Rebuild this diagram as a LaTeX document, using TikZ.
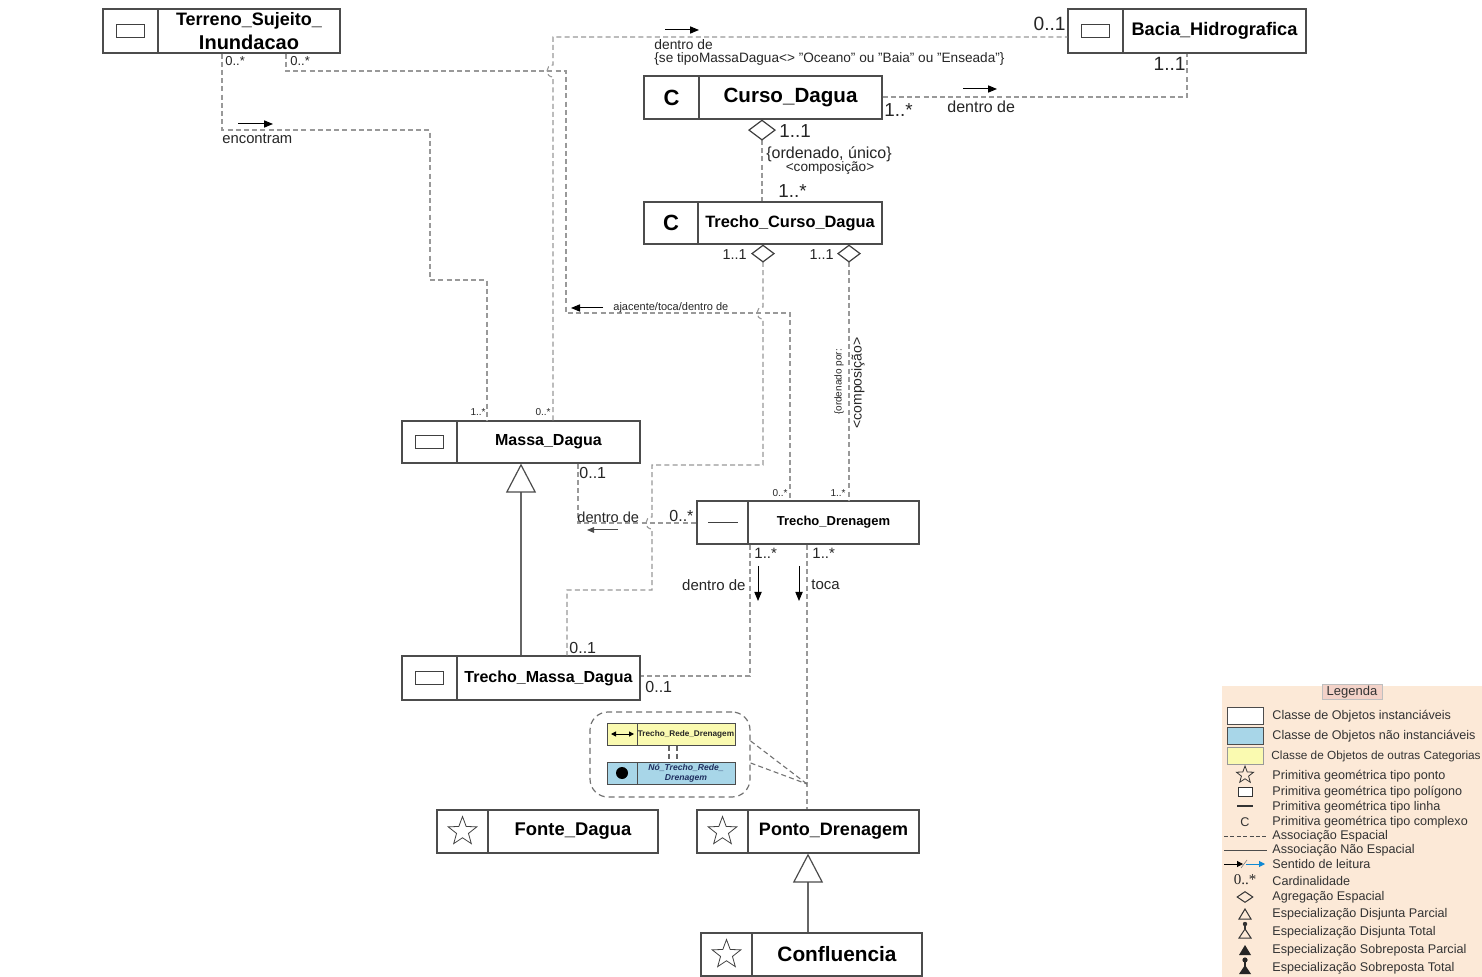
\documentclass[tikz,border=0pt]{standalone}
\usepackage{fontspec}
\setmainfont{Liberation Sans}
\newfontfamily\serifA{Liberation Serif}
\usetikzlibrary{arrows.meta,shapes.geometric,fit,calc}
\newcommand{\fs}[1]{\fontsize{#1}{#1}\selectfont}
\definecolor{legbg}{HTML}{FCE9D7}
\definecolor{legtab}{HTML}{F3D2C8}
\definecolor{clsblue}{HTML}{A8D6E8}
\definecolor{clsyel}{HTML}{FAFAB0}
\definecolor{navy}{HTML}{1F2F5F}
\newcommand{\clsbox}[8]{%
 \node[clsframe, fit={(#2,#3) (#4,#5)}] (#1) {};
 \draw[clsline] (#6,#3) -- (#6,#5);
 \pgfmathsetmacro{\ix}{(#2+#6)/2}%
 \pgfmathsetmacro{\iy}{(#3+#5)/2}%
 \pgfmathsetmacro{\tx}{(#6+#4)/2}%
 \path (\ix,\iy) node#7;
 \node[clstext] (#1-t) at (\tx,\iy) {#8};
}
\begin{document}
\begin{tikzpicture}[x=0.5pt,y=-0.5pt,
 clsframe/.style={draw=black!70, line width=0.6pt, inner sep=0pt, fill=white},
 clsline/.style={draw=black!70, line width=0.6pt},
 clstext/.style={inner sep=0pt, text=black, align=center},
 assoc/.style={draw=black!40, line width=0.55pt, dash pattern=on 2.5pt off 1.6pt},
 gen/.style={draw=black!60, line width=0.55pt},
 lbl/.style={inner sep=0pt, text=black!85},
 rdarrow/.style={draw=black, line width=0.5pt, -{Triangle[length=4.5pt,width=3.6pt]}},
 polyicon/.style={draw=black!75, line width=0.5pt, minimum width=14pt, minimum height=6.5pt, inner sep=0pt},
 staricon/.style={star, star points=5, star point ratio=2.4, draw=black!75, line width=0.4pt, minimum size=15pt, inner sep=0pt},
 lineicon/.style={fill=black!75, minimum width=15pt, minimum height=0.6pt, inner sep=0pt},
 cicon/.style={inner sep=0pt, font=\fs{11}\bfseries},
 legtext/.style={inner sep=0pt, anchor=west, text=black!80, font=\fs{6.3}},
]
\useasboundingbox (0,0) rectangle (1482,977);
\fill[white] (0,0) rectangle (1482,977);

% ---------- class boxes ----------
\clsbox{terreno}{103}{9}{340}{53}{158}{[polyicon] (terreno-i) {}}{\fontsize{9}{10.5}\selectfont\textbf{Terreno\_Sujeito\_}\\\textbf{Inundacao}}
\clsbox{bacia}{1068}{9}{1306}{53}{1123}{[polyicon] (bacia-i) {}}{\fs{9.1}\bfseries Bacia\_Hidrografica}
\clsbox{curso}{644}{76}{882}{119}{699}{[cicon] (curso-i) {C}}{\fs{10.3}\bfseries Curso\_Dagua}
\clsbox{trcurso}{644}{202}{882}{244}{698}{[cicon] (trcurso-i) {C}}{\fs{8.2}\bfseries Trecho\_Curso\_Dagua}
\clsbox{massa}{402}{421}{640}{463}{457}{[polyicon] (massa-i) {}}{\fs{8}\bfseries Massa\_Dagua}
\clsbox{trdren}{697}{501}{919}{544}{748}{[lineicon] (trdren-i) {}}{\fs{6.5}\bfseries Trecho\_Drenagem}
\clsbox{trmassa}{402}{656}{640}{700}{457}{[polyicon] (trmassa-i) {}}{\fs{8}\bfseries Trecho\_Massa\_Dagua}
\clsbox{fonte}{437}{810}{658}{853}{488}{[staricon] (fonte-i) {}}{\fs{9.2}\bfseries Fonte\_Dagua}
\clsbox{ponto}{697}{810}{919}{853}{748}{[staricon] (ponto-i) {}}{\fs{9}\bfseries Ponto\_Drenagem}
\clsbox{conf}{701}{933}{922}{976}{752}{[staricon] (conf-i) {}}{\fs{10.4}\bfseries Confluencia}

% ---------- connectors ----------
% Terreno -> Massa (encontram)
\draw[assoc] (terreno.south -| 222,0) -- (222,130) -- (430,130) -- (430,280) -- (487,280) -- (massa.north -| 487,0);
% Terreno -> Trecho_Drenagem (ajacente/toca/dentro de)
\draw[assoc] (terreno.south -| 286,0) -- (286,71) -- (566,71) -- (566,313) -- (790,313) -- (trdren.north -| 790,0);
% Massa -> Bacia (dentro de)
\draw[assoc] (massa.north -| 553,0) -- (553,77) .. controls (545,77) and (545,65) .. (553,65) -- (553,37) -- (bacia.west |- 0,37);
% Curso -> Bacia
\draw[assoc] (curso.east |- 0,97) -- (1187,97) -- (bacia.south -| 1187,0);
% Curso <> Trecho_Curso
\draw[assoc, {Diamond[open,length=10.5pt,width=14pt,color=black!75,line width=0.6pt]}-] (curso.south -| 762,0) -- (trcurso.north -| 762,0);
% Trecho_Curso <> Trecho_Massa
\draw[assoc, {Diamond[open,length=9pt,width=12pt,color=black!75,line width=0.6pt]}-] (trcurso.south -| 763,0) -- (763,307) .. controls (755,307) and (755,319) .. (763,319) -- (763,465) -- (652,465) -- (652,517) .. controls (644,517) and (644,529) .. (652,529) -- (652,590) -- (567,590) -- (trmassa.north -| 567,0);
% Trecho_Curso <> Trecho_Drenagem
\draw[assoc, {Diamond[open,length=9pt,width=12pt,color=black!75,line width=0.6pt]}-] (trcurso.south -| 849,0) -- (trdren.north -| 849,0);
% Massa -> Trecho_Drenagem (dentro de)
\draw[assoc] (massa.south -| 578,0) -- (578,523) -- (trdren.west |- 0,523);
% Trecho_Drenagem -> Trecho_Massa
\draw[assoc] (trdren.south -| 750,0) -- (750,676) -- (trmassa.east |- 0,676);
% Trecho_Drenagem -> Ponto
\draw[assoc] (trdren.south -| 807,0) -- (ponto.north -| 807,0);
\coordinate (pj) at (807,784);
% generalizations
\draw[gen, -{Triangle[open,length=14.5pt,width=15pt,color=black!70,line width=0.6pt]}] (trmassa.north -| 521,0) -- (massa.south -| 521,0);
\draw[gen, -{Triangle[open,length=14.5pt,width=15pt,color=black!70,line width=0.6pt]}] (conf.north -| 808,0) -- (ponto.south -| 808,0);

% ---------- labels ----------
\node[lbl, anchor=west, font=\fs{6.5}] (m1) at (225,61) {0..*};
\node[lbl, anchor=west, font=\fs{6.5}] (m2) at (290,61) {0..*};
\draw[rdarrow] (238,124) -- (273,124);
\node[lbl, anchor=west, font=\fs{7.4}] (encontram) at (222,139) {encontram};
\node[lbl, anchor=east, font=\fs{9.6}] (m3) at (1066,24) {0..1};
\node[lbl, anchor=east, font=\fs{9.6}] (m4) at (1186,64) {1..1};
\draw[rdarrow] (665,30) -- (699,30);
\node[lbl, anchor=west, font=\fs{6.9}] (dd1) at (654,45) {dentro de};
\node[lbl, anchor=west, font=\fs{6.8}] (cond) at (654,59) {\{se tipoMassaDagua<> "Oceano" ou "Baia" ou "Enseada"\}};
\node[lbl, anchor=west, font=\fs{9.4}] (m5) at (884,110) {1..*};
\draw[rdarrow] (963,89) -- (997,89);
\node[lbl, anchor=west, font=\fs{8}] (dd2) at (947,107) {dentro de};
\node[lbl, anchor=west, font=\fs{9.4}] (m6) at (779,131) {1..1};
\node[lbl, font=\fs{8}] (ord) at (829,154) {\{ordenado, único\}};
\node[lbl, font=\fs{6.8}] (comp1) at (830,168) {<composição>};
\node[lbl, anchor=west, font=\fs{9.4}] (m7) at (778,191) {1..*};
\node[lbl, anchor=east, font=\fs{7.2}] (m8) at (747,255) {1..1};
\node[lbl, anchor=east, font=\fs{7.2}] (m9) at (834,255) {1..1};
\draw[rdarrow] (603,308) -- (571,308);
\node[lbl, anchor=west, font=\fs{5.5}] (ajac) at (613,308) {ajacente/toca/dentro de};
\node[lbl, rotate=90, font=\fs{5}] (ordpor) at (839,382) {\{ordenado por:};
\node[lbl, rotate=90, font=\fs{7}] (comp2) at (858,383) {<composição>};
\node[lbl, anchor=east, font=\fs{5}] (m10) at (486,412) {1..*};
\node[lbl, anchor=east, font=\fs{5}] (m11) at (551,412) {0..*};
\node[lbl, anchor=east, font=\fs{5}] (m12) at (788,493) {0..*};
\node[lbl, anchor=east, font=\fs{5}] (m13) at (846,493) {1..*};
\node[lbl, anchor=west, font=\fs{8}] (m14) at (579,473) {0..1};
\node[lbl, anchor=west, font=\fs{7.3}] (dd3) at (577,517) {dentro de};
\draw[rdarrow, -{Triangle[length=3.5pt,width=2.8pt]}, draw=black!70] (618,530) -- (587,530);
\node[lbl, anchor=west, font=\fs{8}] (m15) at (669,516) {0..*};
\node[lbl, anchor=west, font=\fs{7.5}] (m16) at (754,553) {1..*};
\node[lbl, anchor=west, font=\fs{7.5}] (m17) at (812,553) {1..*};
\draw[rdarrow] (758,566) -- (758,601);
\draw[rdarrow] (799,566) -- (799,601);
\node[lbl, anchor=east, font=\fs{7.5}] (dd4) at (746,585) {dentro de};
\node[lbl, anchor=west, font=\fs{7.5}] (toca) at (811,585) {toca};
\node[lbl, anchor=west, font=\fs{8}] (m18) at (569,648) {0..1};
\node[lbl, anchor=west, font=\fs{8}] (m19) at (645,687) {0..1};

% ---------- inset ----------
\node[draw=black!55, line width=0.6pt, dash pattern=on 3pt off 2pt, rounded corners=9pt, fit={(590,712) (750,797)}, inner sep=0pt] (inset) {};
\node[draw=black!70, line width=0.5pt, fill=clsyel, fit={(607,723) (735,745)}, inner sep=0pt] (trd) {};
\draw[black!70, line width=0.5pt] (637,723) -- (637,745);
\draw[black, line width=0.5pt, {Triangle[length=2.5pt,width=2.5pt]}-{Triangle[length=2.5pt,width=2.5pt]}] (611,734) -- (634,734);
\node[inner sep=0pt, font=\fs{4.1}\bfseries, text=black!85] (trd-t) at (686,734) {Trecho\_Rede\_Drenagem};
\node[draw=black!70, line width=0.5pt, fill=clsblue, fit={(607,762) (735,784)}, inner sep=0pt] (ntrd) {};
\draw[black!70, line width=0.5pt] (637,762) -- (637,784);
\fill[black] (622,773) circle (3pt);
\node[inner sep=0pt, align=center, font=\fontsize{4.3}{5}\selectfont\bfseries\itshape, text=navy] (ntrd-t) at (686,773) {Nó\_Trecho\_Rede\_\\Drenagem};
\draw[assoc, draw=black!60] (trd.south -| 669,0) -- (ntrd.north -| 669,0);
\draw[assoc, draw=black!60] (trd.south -| 677,0) -- (ntrd.north -| 677,0);
\draw[assoc, draw=black!55] (inset.east |- 0,741) -- (pj);
\draw[assoc, draw=black!55] (inset.east |- 0,763) -- (pj);

% ---------- legend ----------
\fill[legbg] (1222,686) rectangle (1482,977);
\node[draw=black!25, fill=legtab, minimum width=30pt, minimum height=7.5pt, inner sep=0pt, font=\fs{6.5}, text=black!80] (legtitle) at (1352,692) {Legenda};
\node[draw=black!70, fill=white, minimum width=18pt, minimum height=8.5pt, inner sep=0pt] (lg1) at (1245,716) {};
\node[legtext] (lt1) at (1272,716) {Classe de Objetos instanciáveis};
\node[draw=black!70, fill=clsblue, minimum width=18pt, minimum height=8.5pt, inner sep=0pt] (lg2) at (1245,736) {};
\node[legtext] (lt2) at (1272,736) {Classe de Objetos não instanciáveis};
\node[draw=black!40, fill=clsyel, minimum width=18pt, minimum height=8.5pt, inner sep=0pt] (lg3) at (1245,756) {};
\node[legtext, font=\fs{5.9}] (lt3) at (1271,756) {Classe de Objetos de outras Categorias};
\node[star, star points=5, star point ratio=2.4, draw=black!80, line width=0.4pt, minimum size=9pt, inner sep=0pt] (lg4) at (1245,775) {};
\node[legtext] (lt4) at (1272,776) {Primitiva geométrica tipo ponto};
\node[draw=black!80, fill=white, minimum width=7pt, minimum height=4.5pt, inner sep=0pt, line width=0.5pt] (lg5) at (1245,792) {};
\node[legtext] (lt5) at (1272,792) {Primitiva geométrica tipo polígono};
\draw[black!80, line width=0.6pt] (1237,806) -- (1253,806);
\node[legtext] (lt6) at (1272,807) {Primitiva geométrica tipo linha};
\node[inner sep=0pt, font=\fs{6.3}, text=black!80] (lg7) at (1245,822) {C};
\node[legtext] (lt7) at (1272,822) {Primitiva geométrica tipo complexo};
\draw[black!70, line width=0.5pt, dash pattern=on 2pt off 1.2pt] (1224,836) -- (1267,836);
\node[legtext] (lt8) at (1272,836) {Associação Espacial};
\draw[black!70, line width=0.5pt] (1224,850) -- (1267,850);
\node[legtext] (lt9) at (1272,850) {Associação Não Espacial};
\draw[black, line width=0.5pt, -{Triangle[length=3pt,width=3pt]}] (1224,864) -- (1243,864);
\draw[black!50, line width=0.3pt] (1241,868) -- (1247,860);
\draw[cyan!70!blue, line width=0.5pt, -{Triangle[length=3pt,width=3pt]}] (1246,864) -- (1265,864);
\node[legtext] (lt10) at (1272,864) {Sentido de leitura};
\node[inner sep=0pt, font=\fs{7.5}\serifA, text=black!85] (lg11) at (1245,880) {0..*};
\node[legtext] (lt11) at (1272,881) {Cardinalidade};
\node[diamond, draw=black!80, line width=0.5pt, minimum width=8pt, minimum height=5.5pt, inner sep=0pt] (lg12) at (1245,897) {};
\node[legtext] (lt12) at (1272,897) {Agregação Espacial};
\draw[black!80, line width=0.5pt] (1239,919) -- (1251,919) -- (1245,909) -- cycle;
\node[legtext] (lt13) at (1272,914) {Especialização Disjunta Parcial};
\draw[black!80, line width=0.5pt] (1239,938) -- (1251,938) -- (1245,929) -- cycle;
\draw[black!80, line width=0.6pt] (1245,929) -- (1245,925);
\fill[black!80] (1245,924) circle (1.1pt);
\node[legtext] (lt14) at (1272,932) {Especialização Disjunta Total};
\fill[black!85] (1239,955) -- (1251,955) -- (1245,945) -- cycle;
\node[legtext] (lt15) at (1272,950) {Especialização Sobreposta Parcial};
\fill[black!85] (1239,974) -- (1251,974) -- (1245,965) -- cycle;
\draw[black!85, line width=0.8pt] (1245,966) -- (1245,961);
\fill[black!85] (1245,960) circle (1.3pt);
\node[legtext] (lt16) at (1272,968) {Especialização Sobreposta Total};
\end{tikzpicture}
\end{document}
